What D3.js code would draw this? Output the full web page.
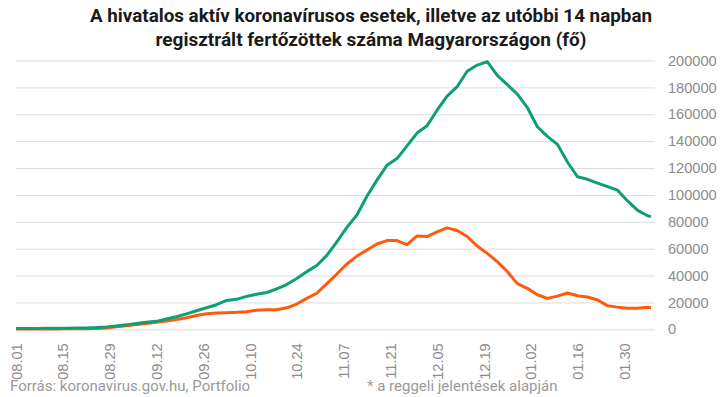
<!DOCTYPE html>
<html>
<head>
<meta charset="utf-8">
<script src="https://cdn.jsdelivr.net/npm/d3@7"></script>
<style>
  body { margin: 0; background: #fff; }
  svg { display: block; font-family: Roboto, "Noto Sans", sans-serif; }
</style>
</head>
<body>
<main></main>
<script>
"use strict";

// mintavétel 3 naponként (2020.08.01 - 2021.02.07)
const dates = [
  "2020-08-01", "2020-08-04", "2020-08-07", "2020-08-10", "2020-08-13", "2020-08-16", "2020-08-19", "2020-08-22",
  "2020-08-25", "2020-08-28", "2020-08-31", "2020-09-03", "2020-09-06", "2020-09-09", "2020-09-12", "2020-09-15",
  "2020-09-18", "2020-09-21", "2020-09-24", "2020-09-27", "2020-09-30", "2020-10-03", "2020-10-06", "2020-10-09",
  "2020-10-12", "2020-10-15", "2020-10-18", "2020-10-21", "2020-10-24", "2020-10-27", "2020-10-30", "2020-11-02",
  "2020-11-05", "2020-11-08", "2020-11-11", "2020-11-14", "2020-11-17", "2020-11-20", "2020-11-23", "2020-11-26",
  "2020-11-29", "2020-12-02", "2020-12-05", "2020-12-08", "2020-12-11", "2020-12-14", "2020-12-17", "2020-12-20",
  "2020-12-23", "2020-12-26", "2020-12-29", "2021-01-01", "2021-01-04", "2021-01-07", "2021-01-10", "2021-01-13",
  "2021-01-16", "2021-01-19", "2021-01-22", "2021-01-25", "2021-01-28", "2021-01-31", "2021-02-03", "2021-02-06",
  "2021-02-07"
];

// aktív esetek
const activeCases = [
  600, 600, 650, 700, 750, 800, 900, 1000,
  1300, 1800, 2500, 3300, 4300, 5300, 5900, 7600,
  9300, 11500, 13800, 16000, 18300, 21500, 22300, 24500,
  26100, 27400, 30000, 33300, 37800, 42900, 47500, 55000,
  65000, 75800, 85000, 99000, 111000, 122000, 127000, 136500,
  146000, 151500, 163000, 173500, 180500, 192000, 196600, 199100,
  189000, 182000, 175000, 165000, 150700, 143500, 137600, 124500,
  113500, 111600, 108800, 106100, 103500, 95500, 88500, 84500,
  83800
];

// utóbbi 14 napban regisztrált fertőzöttek
const last14Days = [
  300, 300, 300, 300, 300, 350, 400, 450,
  600, 1000, 1800, 2700, 3500, 4300, 5200, 6200,
  7200, 8600, 10300, 11500, 12100, 12400, 12600, 13100,
  14200, 14600, 14500, 16000, 18800, 23000, 26800, 34000,
  41100, 48600, 54500, 59000, 63500, 66000, 66000, 63000,
  69500, 69000, 72500, 75500, 73500, 69000, 62000, 56500,
  50300, 43000, 34000, 30500, 25700, 23000, 24700, 27000,
  25000, 24000, 21800, 17600, 16500, 15600, 15600, 16400,
  16000
];

const tickDates = [
  "2020-08-01", "2020-08-15", "2020-08-29", "2020-09-12", "2020-09-26", "2020-10-10", "2020-10-24",
  "2020-11-07", "2020-11-21", "2020-12-05", "2020-12-19", "2021-01-02", "2021-01-16", "2021-01-30"
];
const yTicks = [0, 20000, 40000, 60000, 80000, 100000, 120000, 140000, 160000, 180000, 200000];

const titleLines = [
  "A hivatalos aktív koronavírusos esetek, illetve az utóbbi 14 napban",
  "regisztrált fertőzöttek száma Magyarországon (fő)"
];

const svgWidth = 720;
const svgHeight = 397;
const plotLeft = 16;
const plotRight = 651;
const gridRight = 655;
const plotTop = 60.5;
const plotBottom = 329.3;

const parseDate = d3.timeParse("%Y-%m-%d");
const fmtTick = d3.timeFormat("%m.%d");

const rows = dates.map((d, i) => ({
  date: parseDate(d),
  active: activeCases[i],
  last14: last14Days[i]
}));

const svg = d3.select("main")
  .append("svg")
  .attr("width", svgWidth)
  .attr("height", svgHeight)
;

const xScale = d3.scaleTime()
  .domain([parseDate("2020-08-01"), parseDate("2021-02-07")])
  .range([plotLeft, plotRight])
;

const yScale = d3.scaleLinear()
  .domain([0, 200000])
  .range([plotBottom, plotTop])
;

// rácsvonalak + jobb oldali tengely
const yAxis = d3.axisRight(yScale)
  .tickValues(yTicks)
  .tickSize(gridRight - plotLeft)
  .tickPadding(13)
  .tickFormat(d3.format("d"))
;

svg.append("g")
  .attr("transform", `translate(${plotLeft}, 0)`)
  .call(yAxis)
  .call(g => g.select(".domain").remove())
  .call(g => g.selectAll("line").attr("stroke", "#dcdcdc"))
  .call(g => g.selectAll("text")
    .attr("fill", "#8c8c8c")
    .style("font-size", "14.6px"))
;

const xAxis = d3.axisBottom(xScale)
  .tickValues(tickDates.map(parseDate))
  .tickSize(0)
  .tickFormat(fmtTick)
;

svg.append("g")
  .attr("transform", `translate(0, ${plotBottom})`)
  .call(xAxis)
  .call(g => g.select(".domain").remove())
  .call(g => g.selectAll("text")
    .attr("fill", "#8c8c8c")
    .style("font-size", "14.6px")
    .style("text-anchor", "end")
    .attr("transform", "rotate(-90)")
    .attr("x", -14)
    .attr("y", 0)
    .attr("dy", "0.35em"))
;

const line = key => d3.line()
  .x(d => xScale(d.date))
  .y(d => yScale(d[key]))
;

svg.append("path")
  .datum(rows)
  .attr("fill", "none")
  .attr("stroke", "#ff5a0d")
  .attr("stroke-width", 3)
  .attr("stroke-linejoin", "round")
  .attr("d", line("last14"))
;

svg.append("path")
  .datum(rows)
  .attr("fill", "none")
  .attr("stroke", "#0e9e78")
  .attr("stroke-width", 3)
  .attr("stroke-linejoin", "round")
  .attr("d", line("active"))
;

svg.append("g")
  .selectAll("text")
  .data(titleLines)
  .join("text")
  .attr("x", 371)
  .attr("y", (d, i) => 22 + i * 24)
  .attr("text-anchor", "middle")
  .attr("textLength", (d, i) => i === 0 ? 562 : 431)
  .attr("lengthAdjust", "spacingAndGlyphs")
  .attr("fill", "#1a1a1a")
  .style("font-size", "18px")
  .style("font-weight", "bold")
  .text(d => d)
;

svg.append("text")
  .attr("x", 10)
  .attr("y", 391)
  .attr("fill", "#9a9a9a")
  .style("font-size", "15px")
  .text("Forrás: koronavirus.gov.hu, Portfolio")
;

svg.append("text")
  .attr("x", 367)
  .attr("y", 391)
  .attr("fill", "#9a9a9a")
  .style("font-size", "15px")
  .text("* a reggeli jelentések alapján")
;
</script>
</body>
</html>
